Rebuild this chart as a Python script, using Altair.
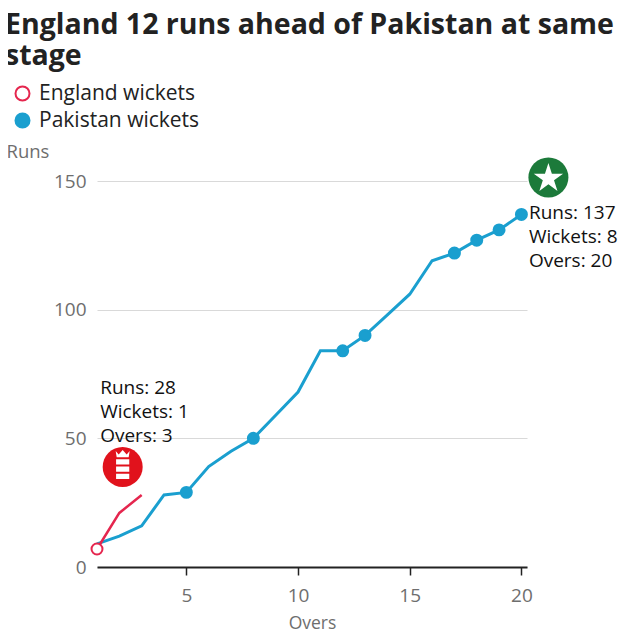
import altair as alt
import pandas as pd

# ---- data ----
overs = list(range(1, 21))
pak_runs = [9, 12, 16, 28, 29, 39, 45, 50, 59, 68, 84, 84, 90, 98, 106, 119, 122, 127, 131, 137]
eng_overs = [1, 2, 3]
eng_runs = [7, 21, 28]
pak_wicket_overs = [5, 8, 12, 13, 17, 18, 19, 20]
eng_wicket_overs = [1]
y_ticks = [0, 50, 100, 150]
x_ticks = [5, 10, 15, 20]
series_names = ["England wickets", "Pakistan wickets"]
eng_label = "Runs: 28\nWickets: 1\nOvers: 3"
pak_label = "Runs: 137\nWickets: 8\nOvers: 20"
title_lines = ["England 12 runs ahead of Pakistan at same", "stage"]

RED = "#e5264e"
BLUE = "#1a9fcf"
ENG_LOGO = "#e1121c"
PAK_LOGO = "#1c7a3a"
FONT = "Open Sans"
TITLE_FONT = "Open Sans"
AXIS_GREY = "#6e6e6e"

STAR_PATH = (
    "M0,-1 L0.2245,-0.309 L0.951,-0.309 L0.363,0.118 L0.588,0.809 L0,0.382 "
    "L-0.588,0.809 L-0.363,0.118 L-0.951,-0.309 L-0.2245,-0.309 Z"
)
CREST_PATH = (
    "M-0.35,-0.9 L-0.2,-0.72 L0,-0.95 L0.2,-0.72 L0.35,-0.9 L0.3,-0.58 L-0.3,-0.58 Z "
    "M-0.33,-0.48 L0.33,-0.48 L0.33,-0.22 L-0.33,-0.22 Z "
    "M-0.33,-0.12 L0.33,-0.12 L0.33,0.14 L-0.33,0.14 Z "
    "M-0.33,0.24 L0.33,0.24 L0.33,0.5 L-0.33,0.5 Z"
)

pak_df = pd.DataFrame({"over": overs, "runs": pak_runs})
eng_df = pd.DataFrame({"over": eng_overs, "runs": eng_runs})

pak_map = dict(zip(overs, pak_runs))
eng_map = dict(zip(eng_overs, eng_runs))
wk_df = pd.DataFrame(
    {
        "over": eng_wicket_overs + pak_wicket_overs,
        "runs": [eng_map[o] for o in eng_wicket_overs] + [pak_map[o] for o in pak_wicket_overs],
        "series": [series_names[0]] * len(eng_wicket_overs) + [series_names[1]] * len(pak_wicket_overs),
    }
)

eng_last = pd.DataFrame({"over": [eng_overs[-1]], "runs": [eng_runs[-1]], "label": [eng_label]})
pak_last = pd.DataFrame({"over": [overs[-1]], "runs": [pak_runs[-1]], "label": [pak_label]})

x_enc = alt.X(
    "over:Q",
    scale=alt.Scale(domain=[1, 20.25], nice=False, zero=False),
    axis=alt.Axis(
        values=x_ticks,
        title="Overs",
        grid=False,
        domainColor="#222222",
        domainWidth=2,
        tickColor="#222222",
        tickWidth=1.5,
        tickSize=8,
        labelFontSize=19,
        labelColor=AXIS_GREY,
        labelFont=FONT,
        labelPadding=11,
        titleFontSize=17.5,
        titleColor=AXIS_GREY,
        titleFont=FONT,
        titleFontWeight="normal",
        titlePadding=9.5,
    ),
)
y_enc = alt.Y(
    "runs:Q",
    scale=alt.Scale(domain=[0, 150], nice=False),
    axis=alt.Axis(
        values=y_ticks,
        grid=True,
        gridColor="#d9d9d9",
        gridWidth=1,
        domain=False,
        ticks=False,
        labelPadding=11,
        labelFontSize=19,
        labelColor=AXIS_GREY,
        labelFont=FONT,
        title="Runs",
        titleAngle=0,
        titleAlign="left",
        titleBaseline="middle",
        titleX=-91,
        titleY=-30,
        titleFontSize=18.5,
        titleColor=AXIS_GREY,
        titleFont=FONT,
        titleFontWeight="normal",
    ),
)

pak_line = alt.Chart(pak_df).mark_line(color=BLUE, strokeWidth=3).encode(x=x_enc, y=y_enc)
eng_line = alt.Chart(eng_df).mark_line(color=RED, strokeWidth=2.5).encode(x="over:Q", y="runs:Q")

legend_kw = dict(
    title=None,
    orient="none",
    legendX=-85,
    legendY=-98,
    labelFontSize=21,
    labelFont=FONT,
    labelColor="#222222",
    labelLimit=400,
    symbolSize=196,
    symbolStrokeWidth=2,
    symbolType="circle",
    rowPadding=4,
    labelOffset=6,
    padding=0,
)
points = alt.Chart(wk_df).mark_point(shape="circle", size=120, strokeWidth=2, opacity=1, fillOpacity=1).encode(
    x="over:Q",
    y="runs:Q",
    stroke=alt.Stroke("series:N", scale=alt.Scale(domain=series_names, range=[RED, BLUE]), legend=alt.Legend(**legend_kw)),
    fill=alt.Fill("series:N", scale=alt.Scale(domain=series_names, range=["white", BLUE]), legend=alt.Legend(**legend_kw)),
)

eng_logo = alt.Chart(eng_last).mark_circle(size=1600, color=ENG_LOGO, opacity=1, xOffset=-19, yOffset=-28).encode(
    x="over:Q", y="runs:Q"
)
eng_crest = alt.Chart(eng_last).mark_point(
    shape=CREST_PATH, size=1600, filled=True, color="white", opacity=1, xOffset=-19, yOffset=-26
).encode(x="over:Q", y="runs:Q")
pak_logo = alt.Chart(pak_last).mark_circle(size=1600, color=PAK_LOGO, opacity=1, xOffset=27, yOffset=-37).encode(
    x="over:Q", y="runs:Q"
)
pak_star = alt.Chart(pak_last).mark_point(
    shape=STAR_PATH, size=950, filled=True, color="white", opacity=1, xOffset=27, yOffset=-36
).encode(x="over:Q", y="runs:Q")

eng_text = alt.Chart(eng_last).mark_text(
    align="left", baseline="alphabetic", dx=-41.5, dy=-101, lineBreak="\n", lineHeight=23.8,
    fontSize=19, font=FONT, color="#111111",
).encode(x="over:Q", y="runs:Q", text="label:N")
pak_text = alt.Chart(pak_last).mark_text(
    align="left", baseline="alphabetic", dx=7.5, dy=4.5, lineBreak="\n", lineHeight=23.8,
    fontSize=19, font=FONT, color="#111111",
).encode(x="over:Q", y="runs:Q", text="label:N")

chart = (
    alt.layer(pak_line, eng_line, points, eng_logo, eng_crest, pak_logo, pak_star, eng_text, pak_text)
    .properties(
        width=430,
        height=386,
        autosize=alt.AutoSizeParams(type="none"),
        padding={"left": 89, "top": 173, "right": 105, "bottom": 70},
        title=alt.TitleParams(
            text=title_lines,
            anchor="start",
            frame="group",
            fontSize=28.5,
            font=TITLE_FONT,
            fontWeight="bold",
            color="#222222",
            lineHeight=31,
            dx=-92,
            dy=-8.5,
        ),
    )
    .configure_view(stroke=None)
)

chart.save("out.html", embed_options={"renderer": "svg", "actions": False})
